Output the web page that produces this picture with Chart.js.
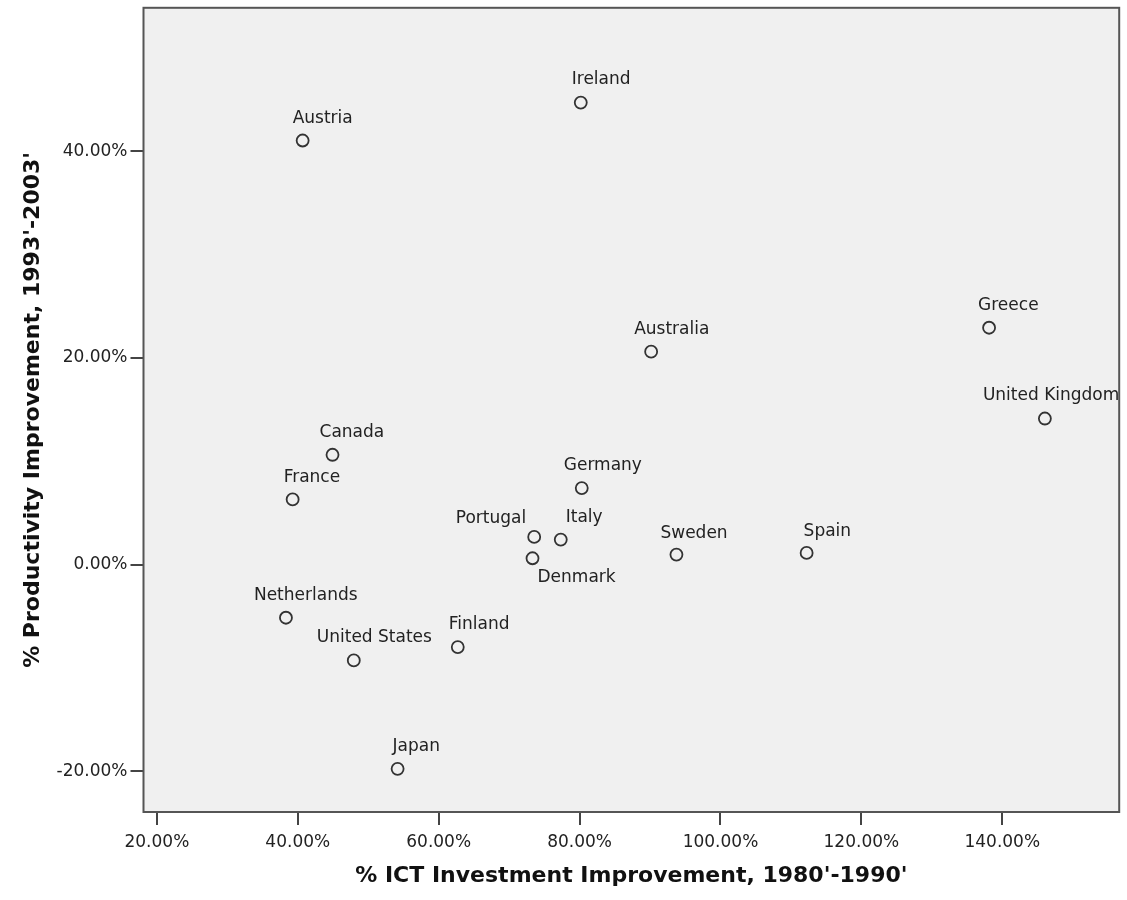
<!DOCTYPE html>
<html>
<head>
<meta charset="utf-8">
<script src="https://cdn.jsdelivr.net/npm/chart.js@4/dist/chart.umd.min.js"></script>
<style>
  html, body { margin: 0; padding: 0; background: #fff; }
  #wrap { width: 1127px; height: 900px; }
</style>
</head>
<body>
<div id="wrap"><canvas id="chart" width="1127" height="900"></canvas></div>
<script>
const countries = ['Austria', 'Ireland', 'Australia', 'Greece', 'United Kingdom', 'Canada', 'France',
  'Germany', 'Portugal', 'Italy', 'Denmark', 'Sweden', 'Spain', 'Netherlands', 'United States',
  'Finland', 'Japan'];
const ictGrowth = [40.69, 80.17, 90.16, 138.13, 146.05, 44.93, 39.27,
  80.31, 73.56, 77.33, 73.32, 93.75, 112.23, 38.32, 47.95, 62.71, 54.17];
const productivityGrowth = [41.06, 44.73, 20.61, 22.93, 14.14, 10.63, 6.31,
  7.41, 2.68, 2.42, 0.61, 0.97, 1.13, -5.15, -9.28, -7.99, -19.78];
const xTitle = "% ICT Investment Improvement, 1980'-1990'";
const yTitle = "% Productivity Improvement, 1993'-2003'";

// where each country's label sits relative to its marker (text edge, vertical centre)
const labelPlace = {
  'Austria': [-10, -22, 'left'], 'Ireland': [-9, -23, 'left'], 'Australia': [-17, -22, 'left'],
  'Greece': [-11, -22, 'left'], 'United Kingdom': [-62, -23, 'left'], 'Canada': [-13, -22, 'left'],
  'France': [-9, -22, 'left'], 'Germany': [-18, -22, 'left'], 'Portugal': [-8, -18, 'right'],
  'Italy': [5, -22, 'left'], 'Denmark': [5, 19, 'left'], 'Sweden': [-16, -21, 'left'],
  'Spain': [-3, -21, 'left'], 'Netherlands': [-32, -22, 'left'], 'United States': [-37, -23, 'left'],
  'Finland': [-9, -22, 'left'], 'Japan': [-5, -22, 'left']
};

const points = countries.map((c, i) => ({ x: ictGrowth[i], y: productivityGrowth[i] }));

// no extra room for edge tick labels, the frame is fixed
function noPad(scale) {
  scale.paddingTop = 0;
  scale.paddingBottom = 0;
  scale.paddingLeft = 0;
  scale.paddingRight = 0;
}

const plotFrame = {
  id: 'plotFrame',
  beforeDraw(chart) {
    const { ctx, chartArea: a } = chart;
    ctx.save();
    ctx.fillStyle = '#f0f0f0';
    ctx.fillRect(a.left, a.top, a.right - a.left, a.bottom - a.top);
    ctx.restore();
  },
  afterDraw(chart) {
    const { ctx, chartArea: a } = chart;
    ctx.save();
    ctx.strokeStyle = '#555';
    ctx.lineWidth = 2;
    ctx.strokeRect(a.left, a.top, a.right - a.left, a.bottom - a.top);
    ctx.restore();
  }
};

const pointLabels = {
  id: 'pointLabels',
  afterDatasetsDraw(chart) {
    const { ctx, chartArea: a } = chart;
    const meta = chart.getDatasetMeta(0);
    ctx.save();
    ctx.beginPath();
    ctx.rect(a.left, a.top, a.right - a.left, a.bottom - a.top);
    ctx.clip();
    ctx.font = '17px "DejaVu Sans"';
    ctx.fillStyle = '#222';
    ctx.textBaseline = 'middle';
    meta.data.forEach((el, i) => {
      const p = labelPlace[countries[i]] || [0, -22, 'center'];
      ctx.textAlign = p[2];
      ctx.fillText(countries[i], el.x + p[0], el.y + p[1]);
    });
    ctx.restore();
  }
};

new Chart(document.getElementById('chart'), {
  type: 'scatter',
  data: {
    datasets: [{
      data: points,
      pointRadius: 6,
      pointHoverRadius: 6,
      pointBorderWidth: 1.8,
      borderColor: '#333',
      backgroundColor: 'rgba(0,0,0,0)'
    }]
  },
  options: {
    responsive: false,
    animation: false,
    events: [],
    layout: { padding: { top: 6, right: 2, bottom: 0, left: 0 } },
    plugins: { legend: { display: false }, tooltip: { enabled: false } },
    scales: {
      x: {
        type: 'linear',
        min: 18.1,
        max: 156.6,
        afterFit(scale) { scale.height = 88; noPad(scale); },
        border: { display: false },
        grid: { drawOnChartArea: false, drawTicks: true, tickLength: 13, color: '#444', lineWidth: 2 },
        ticks: {
          stepSize: 20,
          includeBounds: false,
          maxRotation: 0,
          padding: 7,
          color: '#222',
          font: { family: 'DejaVu Sans', size: 17 },
          callback: v => v.toFixed(2) + '%'
        },
        title: {
          display: true,
          text: xTitle,
          color: '#111',
          font: { family: 'DejaVu Sans', size: 22, weight: 'bold' },
          padding: { top: 0, bottom: 11 }
        }
      },
      y: {
        type: 'linear',
        min: -23.96,
        max: 53.91,
        afterFit(scale) { scale.width = 143.5; noPad(scale); },
        border: { display: false },
        grid: { drawOnChartArea: false, drawTicks: true, tickLength: 13, color: '#444', lineWidth: 2 },
        ticks: {
          stepSize: 20,
          includeBounds: false,
          padding: 3,
          color: '#222',
          font: { family: 'DejaVu Sans', size: 17 },
          callback: v => v.toFixed(2) + '%'
        },
        title: {
          display: true,
          text: yTitle,
          color: '#111',
          font: { family: 'DejaVu Sans', size: 22, weight: 'bold' },
          padding: { top: 20, bottom: 0 }
        }
      }
    }
  },
  plugins: [plotFrame, pointLabels]
});
</script>
</body>
</html>
